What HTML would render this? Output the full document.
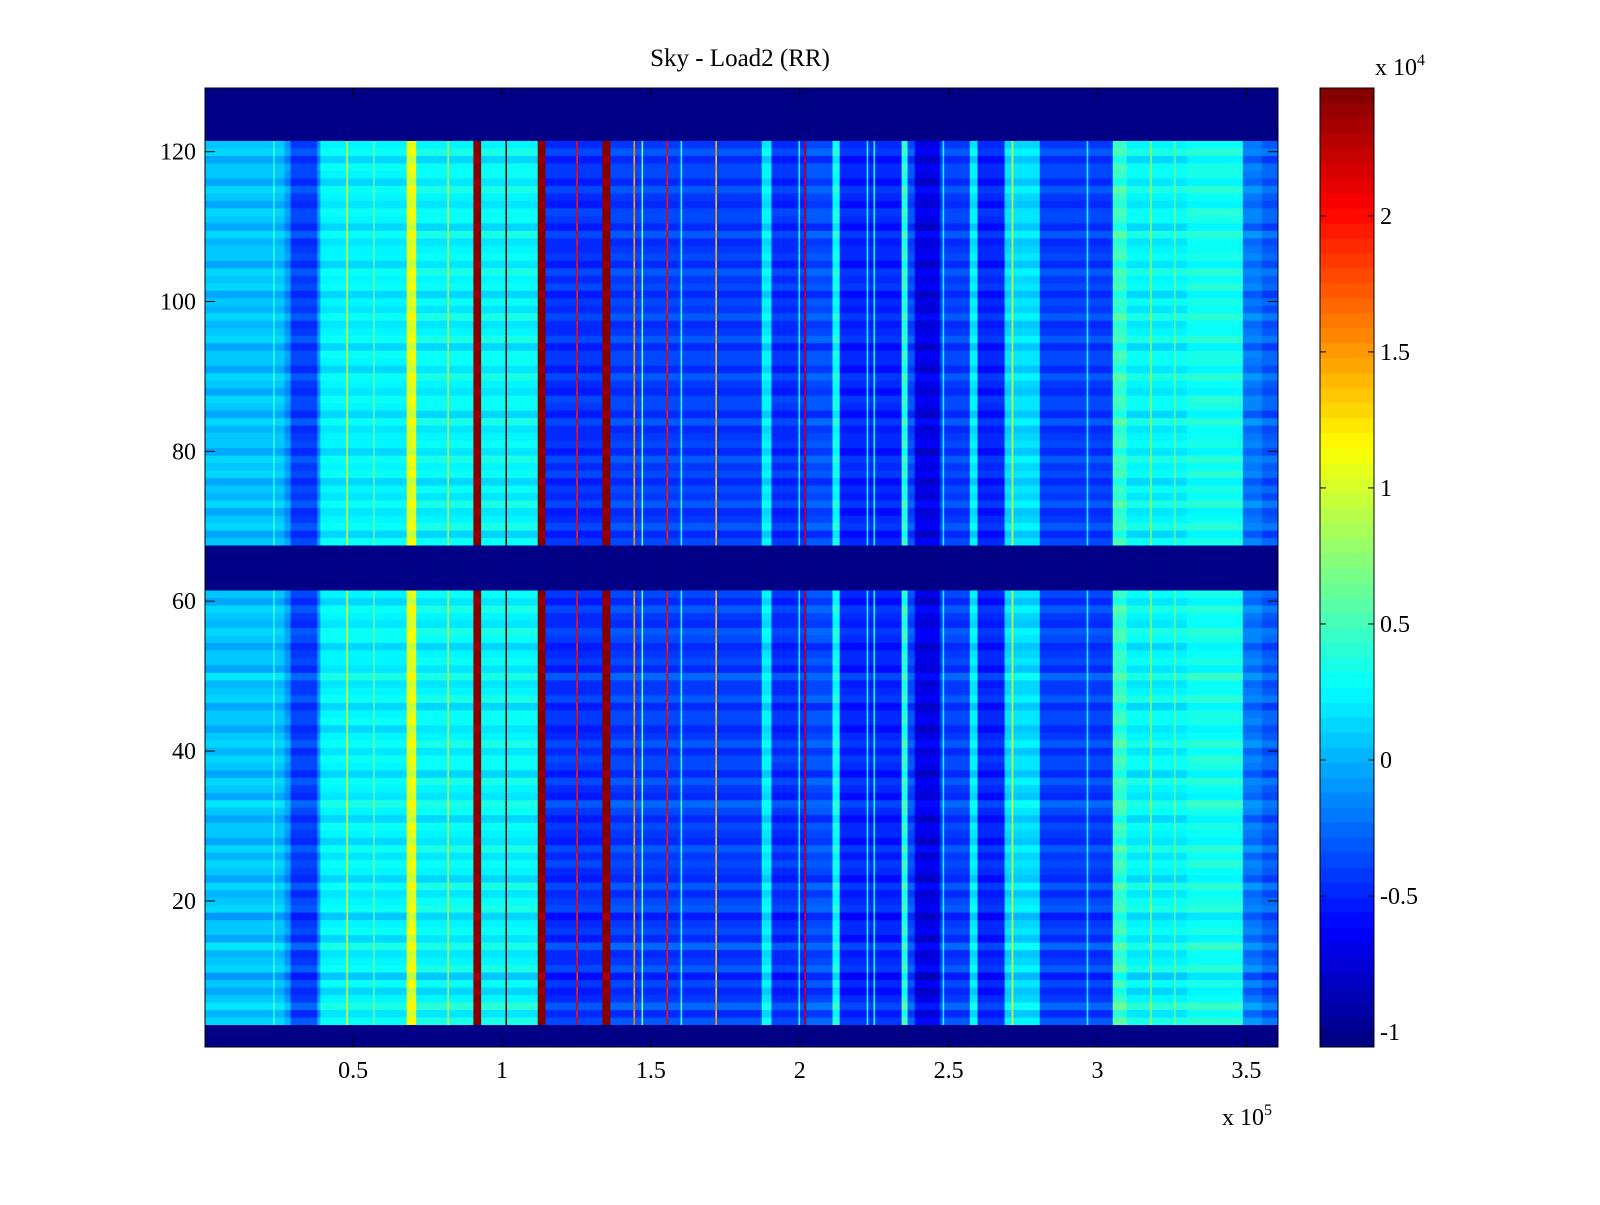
<!DOCTYPE html>
<html><head><meta charset="utf-8"><style>
body{margin:0;background:#fff;width:1600px;height:1200px;overflow:hidden}
text{font-family:"Liberation Serif",serif;font-size:24px;fill:#000}
</style></head><body>
<svg id="c" width="1600" height="1200" xmlns="http://www.w3.org/2000/svg">
<rect width="1600" height="1200" fill="#fff"/>
<text x="740" y="66" text-anchor="middle" style="font-size:25px">Sky - Load2 (RR)</text>
<g id="cells"></g>
<g id="axes"></g>
<g id="cbar"></g>
<text x="1222" y="1125">x 10<tspan dy="-10" font-size="16">5</tspan></text>
<text x="1375" y="75">x 10<tspan dy="-10" font-size="16">4</tspan></text>
</svg>
<script>
// band start positions (x 1e5) and values (x 1e4)
const bandStart = [0,0.27,0.29,0.38,0.39,0.68,0.712,0.904,0.93,1.12,1.146,1.337,1.364,1.872,1.905,2.023,2.11,2.134,2.342,2.362,2.386,2.47,2.571,2.597,2.688,2.806,3.051,3.098,3.30,3.488,3.552];
const bandValue = [0.05,-0.1,-0.4,-0.1,0.22,1.05,0.25,2.47,0.25,2.47,-0.45,2.47,-0.4,0.2,-0.45,-0.35,0.3,-0.5,0.4,-0.35,-0.7,-0.4,0.2,-0.5,0.15,-0.4,0.45,0.25,0.32,-0.2,-0.3];
const lineX = [0.235,0.481,0.571,0.82,1.015,1.253,1.445,1.472,1.556,1.603,1.72,1.999,2.019,2.228,2.251,2.483,2.715,2.967,3.26,3.18];
const lineValue = [0.4,1.0,0.6,0.9,2.47,2.0,1.5,0.6,2.0,0.4,1.4,0.3,2.2,0.3,0.3,0.3,1.0,0.3,0.6,0.8];
const maskedRows = [1,2,3,62,63,64,65,66,67,122,123,124,125,126,127,128];
const rowOffset = [0,0,0,0.1,-0.05,0.15,0,-0.1,0.05,-0.15,0.1,0,-0.05,0.12,-0.08,0.05,0,-0.12,0.08,0.02,-0.05,0.1,-0.1,0,0.06,-0.04,0.1,-0.08,0,0.05,-0.1,0.04,0.12,-0.06,0,0.08,-0.1,0.02,0.06,-0.05,0.1,0,-0.08,0.05,0.02,-0.1,0.08,0,-0.04,0.12,-0.06,0.03,0,-0.1,0.05,0.08,-0.05,0,0.1,-0.08,0.02,0,0,0,0,0,0,0.05,-0.1,0.08,0,-0.06,0.1,-0.04,0.02,-0.1,0.06,0,0.08,-0.08,0.04,0,-0.05,0.1,-0.1,0.03,0.06,-0.06,0,0.1,-0.08,0.02,0.05,-0.1,0.08,0,-0.05,0.1,-0.04,0.02,-0.1,0.06,0,0.08,-0.08,0.04,0,-0.05,0.1,-0.1,0.03,0.06,-0.06,0,0.1,-0.08,0.02,0.05,-0.1,0.08,0,0,0,0,0,0,0,0];
const xTicks = [0.5,1,1.5,2,2.5,3,3.5];
const yTicks = [20,40,60,80,100,120];
const cTicks = [-1,-0.5,0,0.5,1,1.5,2];

const NS="http://www.w3.org/2000/svg";
const PL=205,PR=1278,PT=88,PB=1047;
const X0=0.0027,X1=3.606,Y0=0.5,Y1=128.5;
const CMIN=-1.055,CMAX=2.47;
const xs=v=>PL+(v-X0)/(X1-X0)*(PR-PL);
const ys=v=>PB-(v-Y0)/(Y1-Y0)*(PB-PT);
function jet(v){let t=(v-CMIN)/(CMAX-CMIN);t=Math.max(0,Math.min(0.9999,t));t=(Math.floor(t*64)+0.5)/64;
 const f=x=>Math.max(0,Math.min(1,x));
 const r=f(1.5-Math.abs(4*t-3)),g=f(1.5-Math.abs(4*t-2)),b=f(1.5-Math.abs(4*t-1));
 return `rgb(${Math.round(r*255)},${Math.round(g*255)},${Math.round(b*255)})`;}
function mk(tag,attrs,parent){const e=document.createElementNS(NS,tag);for(const k in attrs)e.setAttribute(k,attrs[k]);parent.appendChild(e);return e;}
const cells=document.getElementById('cells');
for(let r=1;r<=128;r++){
 const y=ys(r+0.5),h=ys(r-0.5)-ys(r+0.5);
 if(maskedRows.includes(r)){const e=mk('rect',{x:PL,y:y,width:PR-PL,height:h+0.5,fill:jet(CMIN)},cells);
  
  continue;}
 const off=rowOffset[r-1]||0;
 for(let i=0;i<bandStart.length;i++){
  const x0=xs(Math.max(bandStart[i],X0)),x1=i+1<bandStart.length?xs(bandStart[i+1]):PR;
  const e=mk('rect',{x:x0,y:y,width:x1-x0+0.5,height:h+0.5,fill:jet(bandValue[i]+off)},cells);
  
  
 }
 for(let i=0;i<lineX.length;i++){
  const e=mk('rect',{x:xs(lineX[i])-1,y:y,width:1.6,height:h+0.5,fill:jet(lineValue[i]+off)},cells);
  
  
 }
}
const ax=document.getElementById('axes');
mk('rect',{x:PL,y:PT,width:PR-PL,height:PB-PT,fill:'none',stroke:'#000','stroke-width':1},ax);
xTicks.forEach(t=>{const x=xs(t);
 mk('line',{x1:x,x2:x,y1:PB,y2:PB-10,stroke:'#000'},ax);mk('line',{x1:x,x2:x,y1:PT,y2:PT+10,stroke:'#000'},ax);
 const e=mk('text',{x:x,y:1078,'text-anchor':'middle'},ax);e.textContent=t;
 
 });
yTicks.forEach(t=>{const y=ys(t);
 mk('line',{x1:PL,x2:PL+10,y1:y,y2:y,stroke:'#000'},ax);mk('line',{x1:PR,x2:PR-10,y1:y,y2:y,stroke:'#000'},ax);
 const e=mk('text',{x:196,y:y+8,'text-anchor':'end'},ax);e.textContent=t;
 
 });
const cb=document.getElementById('cbar');
const CL=1320,CR=1374;
const cys=v=>PB-(v-CMIN)/(CMAX-CMIN)*(PB-PT);
for(let i=0;i<64;i++){const v0=CMIN+i/64*(CMAX-CMIN),v1=CMIN+(i+1)/64*(CMAX-CMIN);
 const e=mk('rect',{x:CL,y:cys(v1),width:CR-CL,height:cys(v0)-cys(v1)+0.5,fill:jet((v0+v1)/2)},cb);
 
 }
mk('rect',{x:CL,y:PT,width:CR-CL,height:PB-PT,fill:'none',stroke:'#000'},cb);
cTicks.forEach(t=>{const y=cys(t);
 mk('line',{x1:CL,x2:CL+6,y1:y,y2:y,stroke:'#000'},cb);mk('line',{x1:CR,x2:CR-6,y1:y,y2:y,stroke:'#000'},cb);
 const e=mk('text',{x:1380,y:y+8},cb);e.textContent=t;
 
 });
</script>
</body></html>
